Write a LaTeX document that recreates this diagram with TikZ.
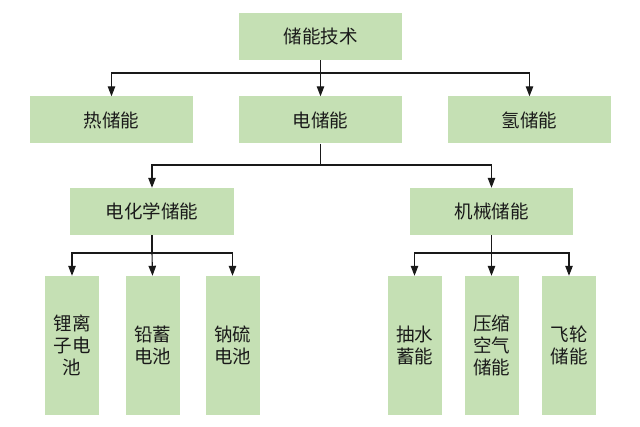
\documentclass[tikz,border=0pt]{standalone}
\usepackage{fontspec}
\setmainfont{Noto Sans CJK SC}
\usetikzlibrary{arrows.meta}
\definecolor{boxgreen}{HTML}{C5E0B4}
\definecolor{txt}{HTML}{1A1A1A}
\begin{document}
\begin{tikzpicture}[x=1pt,y=-1pt,
  box/.style={fill=boxgreen,draw=none,text=txt,font=\fontsize{18.5}{22}\selectfont,inner sep=0pt,align=center},
  wide/.style={box,minimum width=163pt,minimum height=47pt},
  tall/.style={box,minimum width=54pt,minimum height=139pt},
  conn/.style={draw=black!90,line width=1.1pt},
  arr/.style={conn,-{Triangle[length=10pt,width=7.5pt]}}]
\useasboundingbox (0,0) rectangle (640,427);
\node[wide] (top) at (320.5,36.5) {储能技术};
\node[wide] (re) at (111.5,120) {热储能};
\node[wide] (dian) at (320.5,120) {电储能};
\node[wide] (qing) at (529.5,120) {氢储能};
\node[wide,minimum width=164pt] (hx) at (152,211.5) {电化学储能};
\node[wide] (jx) at (491.5,211.5) {机械储能};
\node[tall] (b1) at (72,345.5) {锂离\\子电\\池};
\node[tall] (b2) at (152.5,345.5) {铅蓄\\电池};
\node[tall] (b3) at (232.5,345.5) {钠硫\\电池};
\node[tall] (b4) at (414.5,345.5) {抽水\\蓄能};
\node[tall] (b5) at (491.5,345.5) {压缩\\空气\\储能};
\node[tall] (b6) at (569,345.5) {飞轮\\储能};
% level 1 -> 2
\coordinate (j1) at (320.5,73);
\draw[conn] (top.south) -- (j1);
\draw[arr] (j1) -| (re.north);
\draw[arr] (j1) -| (qing.north);
\draw[arr] (j1) -- (dian.north);
% level 2 -> 3
\coordinate (j2) at (320.5,165);
\draw[conn] (dian.south) -- (j2);
\draw[arr] (j2) -| (hx.north);
\draw[arr] (j2) -| (jx.north);
% level 3 -> 4
\coordinate (j3) at (152,253);
\draw[conn] (hx.south) -- (j3);
\draw[arr] (j3) -| (b1.north);
\draw[arr] (j3) -| (b3.north);
\draw[arr] (j3) -- (b2.north);
\coordinate (j4) at (491.5,253);
\draw[conn] (jx.south) -- (j4);
\draw[arr] (j4) -| (b4.north);
\draw[arr] (j4) -| (b6.north);
\draw[arr] (j4) -- (b5.north);
\end{tikzpicture}
\end{document}
